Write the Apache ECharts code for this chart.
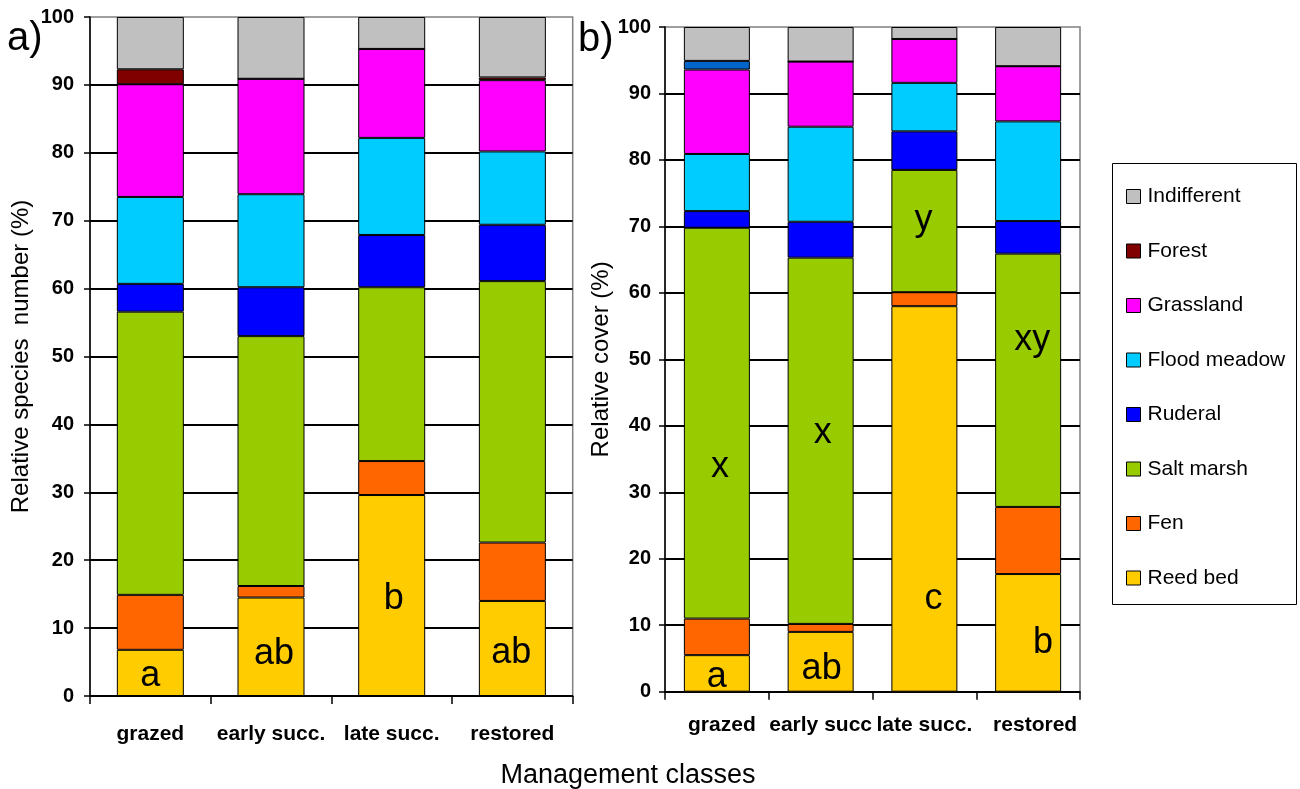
<!DOCTYPE html>
<html>
<head>
<meta charset="utf-8">
<script src="https://cdn.jsdelivr.net/npm/echarts@6/dist/echarts.min.js"></script>
<style>
html,body{margin:0;padding:0;background:#fff;}
#chart{width:1300px;height:789px;}
</style>
</head>
<body>
<div id="chart"></div>
<script>
// ---------- DATA ----------
const categoriesA = ['grazed', 'early succ.', 'late succ.', 'restored'];
const categoriesB = ['grazed', 'early succ', 'late succ.', 'restored'];
const seriesNames = ['Reed bed', 'Fen', 'Salt marsh', 'Ruderal', 'Flood meadow', 'Grassland', 'Forest', 'Indifferent'];
const yMin = 0, yMax = 100, yStep = 10;

// a) Relative species number (%)
const reedA    = [6.8, 14.5, 29.6, 14.0];
const fenA     = [8.1, 1.7, 5.0, 8.6];
const saltA    = [41.7, 36.8, 25.6, 38.5];
const ruderalA = [4.1, 7.2, 7.7, 8.3];
const floodA   = [12.8, 13.7, 14.3, 10.8];
const grassA   = [16.6, 17.0, 13.1, 10.5];
const forestA  = [2.2, 0, 0, 0.4];
const indiffA  = [7.7, 9.1, 4.7, 8.9];

// b) Relative cover (%)
const reedB    = [5.5, 9.0, 58.0, 17.7];
const fenB     = [5.5, 1.2, 2.1, 10.1];
const saltB    = [58.8, 55.1, 18.4, 38.1];
const ruderalB = [2.5, 5.4, 5.8, 4.9];
const floodB   = [8.6, 14.3, 7.3, 15.0];
const grassB   = [12.7, 9.8, 6.6, 8.3];
const forestB  = [1.3, 0, 0, 0];
const indiffB  = [5.1, 5.2, 1.8, 5.9];

// significance letters
const lettersReedA = ['a', 'ab', 'b', 'ab'];
const lettersReedB = ['a', 'ab', 'c', 'b'];
const lettersSaltB = ['x', 'x', 'y', 'xy'];

// ---------- STYLE ----------
const FONT = 'Liberation Sans, Arial, sans-serif';
const colorsA = ['#FFCC00', '#FF6600', '#99CC00', '#0000FF', '#00CCFF', '#FF00FF', '#800000', '#C0C0C0'];
const colorsB = ['#FFCC00', '#FF6600', '#99CC00', '#0000FF', '#00CCFF', '#FF00FF', '#0066CC', '#C0C0C0'];
const offReedA = [[0, 3], [3, 7], [2, 4], [-1, 5]];
const offReedB = [[0, 4], [1, 7], [9, 100], [15, 10]];
const offSaltB = [[3, 44], [2, -8], [-1, -11], [4, -40]];
const labelShiftB = [10, 0, 0, 14]; // left padding to nudge right-panel category labels

const valuesA = [reedA, fenA, saltA, ruderalA, floodA, grassA, forestA, indiffA];
const valuesB = [reedB, fenB, saltB, ruderalB, floodB, grassB, forestB, indiffB];

function withLetters(vals, letters, offs) {
  return vals.map((v, i) => ({
    value: v,
    label: {
      show: true, position: 'inside', formatter: letters[i], offset: offs[i],
      fontFamily: FONT, fontSize: 36, color: '#000'
    }
  }));
}

function buildSeries(values, colors, idx, barWidth, letterMap) {
  return values.map((vals, k) => ({
    name: seriesNames[k],
    type: 'bar',
    stack: 'total' + idx,
    xAxisIndex: idx,
    yAxisIndex: idx,
    barWidth: barWidth,
    itemStyle: { color: colors[k], borderColor: '#000', borderWidth: 1 },
    data: letterMap[k] ? withLetters(vals, letterMap[k][0], letterMap[k][1]) : vals.slice(),
    animation: false
  }));
}

const seriesA = buildSeries(valuesA, colorsA, 0, 67, { 0: [lettersReedA, offReedA] });
const seriesB = buildSeries(valuesB, colorsB, 1, 66, { 0: [lettersReedB, offReedB], 2: [lettersSaltB, offSaltB] });

function xAxis(cats, idx, margin, shifts) {
  return {
    type: 'category', gridIndex: idx,
    data: cats.map((c, i) => shifts ? { value: c, textStyle: { padding: [0, 0, 0, shifts[i]] } } : c),
    axisLine: { lineStyle: { color: '#000', width: 1.5 } },
    axisTick: { show: true, alignWithLabel: false, length: 8, lineStyle: { color: '#000', width: 1.5 } },
    axisLabel: { interval: 0, margin: margin, fontFamily: FONT, fontSize: 21, fontWeight: 'bold', color: '#000' }
  };
}
function yAxis(idx, name, gap, labelMargin) {
  return {
    type: 'value', gridIndex: idx, min: yMin, max: yMax, interval: yStep,
    name: name, nameLocation: 'middle', nameGap: gap,
    nameTextStyle: { fontFamily: FONT, fontSize: 24, color: '#000' },
    axisLine: { show: true, lineStyle: { color: '#000', width: 1.5 } },
    axisTick: { show: true, length: 6, lineStyle: { color: '#000', width: 1.5 } },
    axisLabel: { margin: labelMargin, fontFamily: FONT, fontSize: 20, fontWeight: 'bold', color: '#000' },
    splitLine: { show: true, showMaxLine: false, lineStyle: { color: '#000', width: 2 } }
  };
}

const chart = echarts.init(document.getElementById('chart'), null, { renderer: 'canvas' });
chart.setOption({
  backgroundColor: '#fff',
  animation: false,
  grid: [
    { left: 90, top: 17, right: 727.3, bottom: 93, show: true, borderColor: '#808080', borderWidth: 1.5, backgroundColor: 'transparent' },
    { left: 665, top: 27, right: 220, bottom: 97.3, show: true, borderColor: '#808080', borderWidth: 1.5, backgroundColor: 'transparent' }
  ],
  xAxis: [xAxis(categoriesA, 0, 28), xAxis(categoriesB, 1, 23, labelShiftB)],
  yAxis: [yAxis(0, 'Relative species  number (%)', 57, 16), yAxis(1, 'Relative cover (%)', 52, 14)],
  legend: {
    orient: 'vertical', left: 1126, top: 186, padding: 0,
    itemWidth: 14, itemHeight: 14, itemGap: 33.5, icon: 'rect',
    data: seriesNames.slice().reverse(),
    textStyle: { fontFamily: FONT, fontSize: 21, color: '#000', lineHeight: 21, padding: [0, 0, 0, 2] },
    itemStyle: { borderColor: '#000', borderWidth: 1 }
  },
  graphic: [
    { type: 'rect', shape: { x: 1112.5, y: 163.5, width: 184, height: 441 }, style: { fill: 'none', stroke: '#000', lineWidth: 1 } },
    { type: 'text', left: 7, top: 19, style: { text: 'a)', font: '40px ' + FONT, fill: '#000' } },
    { type: 'text', left: 578, top: 20, style: { text: 'b)', font: '40px ' + FONT, fill: '#000' } },
    { type: 'text', x: 628, y: 776, style: { text: 'Management classes', font: '27px ' + FONT, fill: '#000', textAlign: 'center', textVerticalAlign: 'middle' } }
  ],
  series: seriesA.concat(seriesB)
});
</script>
</body>
</html>
